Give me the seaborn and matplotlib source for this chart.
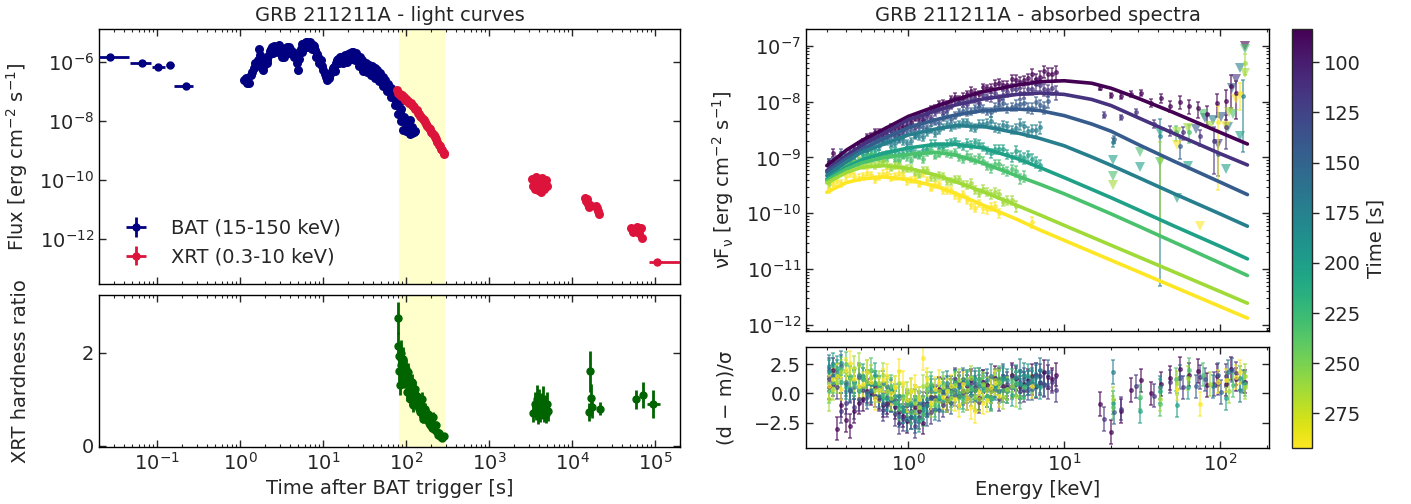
import numpy as np
import pandas as pd
import matplotlib
matplotlib.use("Agg")
import matplotlib.pyplot as plt
import matplotlib.ticker as mticker
from matplotlib.colors import Normalize
from matplotlib.cm import ScalarMappable
import seaborn as sns

nan = np.nan

# ---------------- light curves ----------------
band = [83.4, 292.3]

bat_early_t = [0.027, 0.0655, 0.104, 0.142, 0.221]
bat_early_tlo = [0.0194, 0.047, 0.086, 0.127, 0.160]
bat_early_thi = [0.046, 0.084, 0.124, 0.158, 0.270]
bat_early_flux = [1.48e-6, 8.9e-7, 6.8e-7, 7.9e-7, 1.55e-7]

bat_t = [1.12, 1.17, 1.22, 1.28, 1.34, 1.40, 1.46, 1.52, 1.58, 1.64, 1.70, 1.76, 1.83, 1.90, 1.97,
         2.04, 2.12, 2.20, 2.28, 2.37, 2.46, 2.55, 2.65, 2.75, 2.85, 2.96, 3.07, 3.19, 3.31, 3.44,
         3.57, 3.70, 3.84, 3.99, 4.14, 4.30, 4.46, 4.63, 4.81, 4.99, 5.18, 5.38, 5.58, 5.79, 6.01,
         6.24, 6.48, 6.73, 6.98, 7.25, 7.52, 7.81, 8.11, 8.41, 8.73, 9.07, 9.41, 9.77, 10.1, 10.5,
         10.9, 11.3, 11.8, 12.2, 12.7, 13.2, 13.7, 14.2, 14.7, 15.3, 15.9, 16.5, 17.1, 17.7, 18.4,
         19.1, 19.8, 20.6, 21.4, 22.2, 23.0, 23.9, 24.8, 25.7, 26.7, 27.7, 28.8, 29.9, 31.0, 32.2,
         33.4, 34.7, 36.0, 37.4, 38.8, 40.3, 41.8, 43.4, 45.0, 46.7, 48.5, 50.4, 52.3, 54.3, 56.3,
         58.5, 60.7, 63.0, 65.4, 67.9, 70.5, 73.2, 75.9, 78.8, 81.8, 84.9, 88.2, 91.5, 95.0, 98.6,
         102.4, 106.3, 110.3, 114.5, 118.9, 123.4, 128.1,
         2.1, 2.5, 2.9, 3.4, 3.9, 4.5, 5.6, 6.4, 7.3, 8.3, 14.0, 15.6, 17.4, 19.4, 21.8, 24.3, 27.2,
         30.4, 33.9, 37.9, 42.3, 47.2, 52.7, 58.9, 65.8, 73.5, 80.0, 86.5, 92.8, 99.5, 105, 112, 119]
bat_logflux = [-6.62, -6.55, -6.70, -6.73, -6.45, -6.34, -6.20, -6.05, -6.10, -5.95, -5.55, -5.75, -6.20, -6.28, -6.10,
               -5.95, -5.94, -5.80, -5.62, -5.55, -5.49, -5.45, -5.60, -5.52, -5.48, -5.43, -5.60, -5.83, -5.70, -5.58,
               -5.52, -5.50, -5.49, -5.58, -5.62, -5.66, -5.72, -5.75, -6.05, -6.28, -5.90, -5.55, -5.40, -5.38, -5.35,
               -5.33, -5.32, -5.36, -5.34, -5.40, -5.43, -5.45, -5.60, -5.72, -5.85, -6.05, -5.95, -6.15, -6.28, -6.40,
               -6.50, -6.62, -6.55, -6.40, -6.30, -6.22, -6.17, -6.05, -5.95, -5.90, -5.85, -5.83, -5.90, -5.80, -5.76,
               -5.85, -5.72, -5.80, -5.70, -5.68, -5.66, -5.75, -5.70, -5.88, -5.94, -5.85, -6.05, -5.95, -6.12, -6.17,
               -6.05, -6.20, -6.10, -6.25, -6.15, -6.30, -6.22, -6.35, -6.28, -6.45, -6.38, -6.60, -6.50, -6.70, -6.62,
               -6.82, -6.75, -6.95, -6.88, -7.10, -7.05, -7.25, -7.18, -7.45, -7.40, -7.70, -7.60, -7.95, -7.85, -8.20,
               -8.05, -8.15, -7.98, -8.30, -8.20, -8.37, -8.35,
               -6.05, -5.70, -5.65, -5.85, -5.70, -5.85, -5.65, -5.50, -5.55, -5.85, -6.30, -6.05, -6.05, -6.00,
               -5.90, -5.95, -6.15, -6.30, -6.35, -6.45, -6.55, -6.65, -6.80, -7.00, -7.20, -7.45, -7.75, -8.00,
               -8.30, -8.35, -8.25, -8.45, -8.40]

xrt_t = [77, 79.5, 82, 84.5, 87, 89.5, 92, 95, 98, 101, 104, 107, 110, 114, 118, 122, 126, 130, 134, 138,
         143, 148, 153, 158, 163, 169, 175, 181, 187, 194, 201, 208, 215, 223, 231, 239, 247, 256, 265, 274,
         283, 290,
         3250, 3350, 3450, 3550, 3650, 3750, 3850, 3950, 4050, 4150, 4250, 4350, 4450, 4550, 4650, 4750,
         4900, 5050, 14300, 14800, 15200, 15600, 16000, 16300, 19300, 19900, 20500, 21200,
         51000, 55000, 58000, 61000, 64000, 67000, 70000]
xrt_logflux = [-6.96, -7.05, -7.10, -7.08, -7.15, -7.13, -7.20, -7.18, -7.28, -7.25, -7.33, -7.31, -7.40, -7.38,
               -7.45, -7.50, -7.52, -7.60, -7.64, -7.72, -7.75, -7.83, -7.86, -7.93, -7.97, -8.05, -8.10, -8.18,
               -8.23, -8.28, -8.36, -8.42, -8.48, -8.56, -8.62, -8.70, -8.80, -8.86, -8.94, -9.00, -9.08, -9.13,
               -9.95, -10.20, -10.05, -10.30, -9.90, -10.15, -10.35, -10.00, -10.25, -10.10, -10.40, -9.92,
               -10.20, -10.05, -10.30, -10.12, -10.00, -10.22, -10.60, -10.70, -10.65, -10.80, -10.90, -10.85,
               -10.88, -10.95, -11.05, -11.15, -11.62, -11.75, -11.68, -11.58, -11.80, -11.62, -11.98]
xrt_last_t = 1.06e5
xrt_last_tlo = 8.5e4
xrt_last_thi = 2.5e5
xrt_last_flux = 1.7e-13

hr_t = [79.5, 80.5, 81.5, 82.5, 84, 86, 88, 89, 91, 93, 95, 97.7, 99, 101.6, 104, 106.5, 109, 111.7, 114, 117,
        120, 122.6, 125.5, 128.6, 131.5, 134.8, 138, 141, 144.5, 148, 151.5, 155, 158.5, 162, 165.5, 169, 173,
        178, 182, 186, 190, 195, 200, 204, 212, 223, 230, 238, 245, 252, 260, 267, 275, 284,
        3400, 3550, 3650, 3750, 3850, 3950, 4050, 4150, 4250, 4350, 4450, 4550, 4700, 4850, 5000, 5150,
        16100, 16500, 16800, 17200, 22000, 59800, 72300]
hr_val = [2.75, 2.15, 1.62, 1.94, 1.30, 1.75, 2.00, 1.72, 1.55, 1.87, 1.45, 1.44, 1.65, 1.15, 1.50, 1.58, 1.20,
          1.01, 1.30, 1.37, 1.10, 0.87, 1.15, 1.23, 0.95, 1.08, 0.85, 1.00, 0.78, 0.72, 0.90, 1.01, 0.70, 0.58,
          0.75, 0.80, 0.60, 0.55, 0.68, 0.65, 0.48, 0.44, 0.55, 0.37, 0.62, 0.33, 0.45, 0.30, 0.22, 0.28, 0.20,
          0.19, 0.17, 0.20,
          0.70, 0.90, 0.75, 1.00, 0.65, 0.85, 0.95, 0.72, 0.88, 0.80, 0.98, 0.70, 0.85, 0.68, 0.90, 0.75,
          0.73, 1.60, 1.02, 0.84, 0.80, 1.00, 1.10]
hr_err = [0.35, 0.30, 0.25, 0.30, 0.20, 0.25, 0.28, 0.25, 0.22, 0.25, 0.20, 0.20, 0.22, 0.18, 0.20, 0.20, 0.18,
          0.15, 0.18, 0.18, 0.15, 0.14, 0.16, 0.16, 0.14, 0.15, 0.13, 0.14, 0.12, 0.12, 0.13, 0.14, 0.11, 0.10,
          0.12, 0.12, 0.10, 0.10, 0.11, 0.10, 0.09, 0.08, 0.09, 0.08, 0.10, 0.07, 0.08, 0.06, 0.05, 0.06, 0.05,
          0.05, 0.04, 0.05,
          0.20, 0.25, 0.20, 0.30, 0.18, 0.22, 0.28, 0.20, 0.25, 0.22, 0.30, 0.20, 0.24, 0.20, 0.25, 0.22,
          0.20, 0.45, 0.30, 0.25, 0.15, 0.20, 0.28]
hr_last_t = 95000
hr_last_tlo = 80000
hr_last_thi = 116000
hr_last_val = 0.90
hr_last_err = 0.30

# ---------------- spectra ----------------
times = [83.4, 113.2, 143.1, 172.9, 202.8, 232.6, 262.5, 292.3]

model_E = [0.3, 0.4, 0.5, 0.7, 1.0, 1.5, 2, 3, 5, 7, 10, 15, 20, 30, 50, 100, 150]
model_logF = [
    [-9.146, -8.87, -8.70, -8.49, -8.264, -8.085, -7.966, -7.822, -7.703, -7.643, -7.626, -7.67, -7.76, -7.942, -8.192, -8.55, -8.759],
    [-9.236, -8.97, -8.788, -8.562, -8.323, -8.162, -8.061, -7.954, -7.870, -7.846, -7.87, -7.96, -8.07, -8.29, -8.565, -8.93, -9.134],
    [-9.265, -9.02, -8.86, -8.657, -8.466, -8.323, -8.240, -8.162, -8.132, -8.16, -8.25, -8.40, -8.53, -8.77, -9.06, -9.44, -9.665],
    [-9.325, -9.08, -8.908, -8.759, -8.598, -8.49, -8.431, -8.442, -8.56, -8.66, -8.79, -8.99, -9.14, -9.36, -9.64, -10.01, -10.231],
    [-9.385, -9.17, -9.045, -8.92, -8.83, -8.764, -8.764, -8.83, -9.02, -9.18, -9.36, -9.57, -9.72, -9.94, -10.22, -10.59, -10.816],
    [-9.414, -9.21, -9.098, -8.997, -8.943, -8.908, -8.955, -9.10, -9.33, -9.48, -9.65, -9.86, -10.01, -10.23, -10.51, -10.89, -11.114],
    [-9.456, -9.27, -9.176, -9.146, -9.194, -9.313, -9.432, -9.611, -9.86, -10.03, -10.215, -10.424, -10.572, -10.78, -11.043, -11.40, -11.61],
    [-9.623, -9.45, -9.385, -9.349, -9.397, -9.516, -9.64, -9.85, -10.11, -10.30, -10.483, -10.692, -10.84, -11.048, -11.311, -11.668, -11.877],
]

# XRT channels, set A
xrt_E_a = [0.31, 0.35, 0.40, 0.45, 0.51, 0.58, 0.65, 0.73, 0.82, 0.92, 1.04, 1.17, 1.32, 1.48, 1.67, 1.88,
           2.12, 2.39, 2.69, 3.03, 3.41, 3.84, 4.33, 4.88, 5.5, 6.2, 6.98, 7.86, 8.85]
xrt_frac_a = [0.16, 0.16, 0.14, 0.14, 0.14, 0.14, 0.14, 0.14, 0.14, 0.14, 0.14, 0.14, 0.14, 0.14, 0.14, 0.14,
              0.14, 0.16, 0.16, 0.16, 0.18, 0.18, 0.18, 0.21, 0.21, 0.23, 0.23, 0.25, 0.28]
xrt_logF_a = [
    [-9.09, -9.18, -9.01, -8.87, -8.72, -8.61, -8.55, -8.51, -8.46, -8.43, -8.37, -8.28, -8.20, -8.12, -8.03, -7.96,
     -7.96, -7.87, -7.84, -7.74, -7.76, -7.67, -7.70, -7.61, -7.62, -7.51, -7.55, -7.50, -7.47],
    [-9.12, -9.06, -9.02, -8.95, -8.76, -8.64, -8.64, -8.59, -8.56, -8.51, -8.40, -8.38, -8.26, -8.19, -8.18, -8.07,
     -8.00, -8.04, -7.95, -7.88, -7.92, -7.95, -7.83, -7.77, -7.84, -7.77, -7.70, -7.80, -7.83],
    [-9.10, -9.03, -8.97, -8.88, -8.82, -8.76, -8.67, -8.65, -8.61, -8.60, -8.51, -8.46, -8.48, -8.36, -8.29, -8.31,
     -8.19, -8.19, -8.12, -8.13, -8.18, -8.07, -8.12, -8.06, -8.03, -8.11, -8.06, -7.99, nan],
    [-9.14, -9.07, -9.02, -8.96, -8.83, -8.82, -8.80, -8.71, -8.74, -8.71, -8.71, -8.62, -8.55, -8.57, -8.45, -8.46,
     -8.40, -8.37, -8.47, -8.40, -8.35, -8.48, -8.44, -8.48, -8.44, -8.50, -8.46, nan, nan],
    [-9.24, -9.12, -9.14, -9.04, -8.95, -8.94, -8.93, -8.94, -8.89, -8.94, -8.87, -8.94, -8.84, -8.75, -8.80, -8.73,
     -8.77, -8.74, -8.73, -8.81, -8.92, -8.85, -8.94, -8.88, -9.01, -9.02, -9.13, nan, nan],
    [-9.38, -9.19, -9.06, -9.10, -9.02, -8.93, -8.99, -8.99, -9.02, -8.97, -9.04, -8.96, -8.90, -8.97, -8.88, -8.94,
     -8.99, -8.95, -9.04, -9.06, -9.19, -9.11, -9.25, -9.24, -9.33, nan, nan, nan, nan],
    [-9.47, -9.29, -9.16, -9.09, -9.14, -9.08, -9.10, -9.14, -9.14, -9.21, -9.19, -9.31, -9.23, -9.35, -9.33, -9.43,
     -9.39, -9.49, -9.58, -9.56, -9.66, -9.65, -9.76, -9.87, nan, nan, nan, nan, nan],
    [-9.56, -9.43, -9.33, -9.34, -9.34, -9.31, -9.34, -9.27, -9.34, -9.33, -9.40, -9.47, -9.41, -9.49, -9.58, -9.58,
     -9.73, -9.76, -9.90, -9.91, -9.88, -9.99, nan, nan, nan, -10.15, nan, nan, nan],
]
xrt_res_a = [
    [0.5, -3.0, -2.3, -1.5, -0.5, 0.0, -0.3, -0.8, -1.2, -1.9, -2.0, -1.5, -1.0, -0.5, 0.2, 0.5,
     -0.2, 0.6, 0.3, 1.0, 0.4, 1.2, 0.5, 1.3, 0.8, 1.5, 0.9, 1.4, 1.6],
    [1.2, 0.5, -0.8, -1.2, 0.3, 0.8, -0.5, -1.0, -1.8, -2.2, -1.5, -2.0, -0.8, -0.3, -1.0, 0.2,
     0.8, -0.4, 0.5, 1.0, 0.2, -0.5, 0.8, 1.2, 0.3, 0.9, 1.5, 0.5, 0.3],
    [2.0, 1.5, 0.8, 1.0, 0.5, 0.2, 0.5, -0.3, -0.6, -1.5, -1.0, -0.8, -1.8, -0.5, 0.0, -0.8,
     0.6, 0.2, 0.9, 0.5, -0.3, 1.0, 0.2, 0.8, 1.2, 0.4, 1.0, 1.8, nan],
    [2.3, 1.8, 1.0, 0.5, 1.2, 0.3, -0.2, 0.5, -0.8, -1.2, -2.0, -1.0, -0.5, -1.3, 0.3, -0.2,
     0.5, 1.0, -0.5, 0.7, 1.5, 0.2, 1.1, 0.8, 1.6, 1.2, 2.0, nan, nan],
    [1.8, 2.2, 0.5, 1.0, 1.5, 0.8, 0.3, -0.5, -0.2, -1.5, -0.8, -2.3, -1.0, 0.2, -0.6, 0.5,
     0.0, 0.8, 1.2, 0.3, -0.5, 0.9, 0.4, 1.4, 0.6, 1.0, 0.5, nan, nan],
    [0.2, 1.6, 2.5, 0.8, 1.2, 2.0, 0.5, 0.0, -0.8, -0.2, -1.6, -0.5, 0.4, -1.0, 0.8, 0.1,
     -0.3, 1.0, 0.3, 0.6, -0.4, 1.3, 0.2, 0.9, 0.5, nan, nan, nan, nan],
    [-0.5, 1.0, 1.8, 2.2, 0.6, 1.4, 0.9, 0.2, 0.5, -0.5, 0.3, -1.2, 0.8, -0.6, 0.5, -0.4,
     1.1, 0.3, -0.3, 0.8, 0.2, 1.0, 0.4, -0.2, nan, nan, nan, nan, nan],
    [0.6, 1.5, 2.0, 1.2, 0.8, 1.0, 0.3, 1.5, 0.5, 0.9, 0.2, -0.5, 1.2, 0.4, -0.3, 0.6,
     -1.0, -0.4, -1.5, -0.8, 0.5, -0.2, nan, nan, nan, 0.6, nan, nan, nan],
]

# XRT channels, set B (interleaved)
xrt_E_b = [0.33, 0.37, 0.42, 0.48, 0.545, 0.615, 0.69, 0.775, 0.87, 0.98, 1.10, 1.245, 1.40, 1.575,
           1.775, 2.0, 2.25, 2.54, 2.86, 3.22, 3.62, 4.08, 4.6, 5.2, 5.85, 6.6, 7.4, 8.35]
xrt_frac_b = [0.16, 0.16, 0.14, 0.14, 0.14, 0.14, 0.14, 0.14, 0.14, 0.14, 0.14, 0.14, 0.14, 0.14,
              0.14, 0.14, 0.14, 0.16, 0.16, 0.16, 0.18, 0.18, 0.18, 0.21, 0.21, 0.23, 0.23, 0.25]
xrt_logF_b = [
    [-8.92, -9.00, -8.99, -8.78, -8.64, -8.54, -8.56, -8.46, -8.45, -8.43, -8.29, -8.32, -8.13, -8.04,
     -8.05, -7.91, -7.91, -7.81, -7.87, -7.76, -7.68, -7.70, -7.60, -7.65, -7.58, -7.59, -7.46, -7.50],
    [-9.09, -9.14, -8.90, -8.85, -8.67, -8.66, -8.66, -8.53, -8.57, -8.40, -8.45, -8.29, -8.29, -8.13,
     -8.13, -7.99, -8.03, -7.94, -8.02, -7.92, -7.84, -7.88, -7.77, -7.85, -7.78, -7.69, -7.78, -7.75],
    [-9.07, -8.92, -8.97, -8.81, -8.83, -8.68, -8.72, -8.60, -8.66, -8.52, -8.58, -8.46, -8.37, -8.39,
     -8.25, -8.25, -8.16, -8.17, -8.09, -8.17, -8.10, -8.02, -8.09, -8.05, -8.11, -8.00, -8.10, nan],
    [-9.14, -8.96, -9.01, -8.85, -8.87, -8.77, -8.71, -8.75, -8.67, -8.74, -8.61, -8.64, -8.50, -8.51,
     -8.40, -8.42, -8.36, -8.45, -8.40, -8.38, -8.45, -8.41, -8.50, -8.40, -8.53, -8.50, nan, nan],
    [-9.15, -9.15, -9.06, -9.06, -8.96, -8.87, -8.95, -8.88, -8.93, -8.87, -8.93, -8.87, -8.75, -8.79,
     -8.75, -8.71, -8.80, -8.77, -8.76, -8.87, -8.85, -8.85, -9.00, -8.97, -8.96, -9.08, nan, nan],
    [-9.28, -9.11, -9.09, -9.10, -8.97, -8.98, -9.02, -8.95, -9.04, -9.00, -8.95, -9.03, -8.87, -8.93,
     -8.92, -8.91, -9.03, -9.01, -9.00, -9.15, -9.11, -9.21, -9.21, -9.37, nan, nan, nan, nan],
    [-9.37, -9.19, -9.17, -9.05, -9.11, -9.14, -9.06, -9.18, -9.12, -9.20, -9.27, -9.22, -9.35, -9.32,
     -9.42, -9.39, -9.47, -9.45, -9.63, -9.62, -9.61, -9.79, -9.77, nan, nan, nan, nan, nan],
    [-9.48, -9.46, -9.28, -9.36, -9.27, -9.39, -9.29, -9.36, -9.27, -9.43, -9.39, -9.28, -9.54, -9.48,
     -9.58, -9.67, -9.65, -9.85, -9.82, -9.93, -9.87, nan, nan, nan, nan, nan, nan, nan],
]
xrt_res_b = [
    [2.0, -1.0, -2.8, -0.8, 0.2, 0.5, -1.0, -0.5, -1.6, -2.4, -1.2, -2.5, -0.3, 0.4,
     -0.6, 1.0, 0.2, 1.1, -0.4, 0.7, 1.3, 0.6, 1.6, 0.5, 1.1, 0.6, 1.8, 1.2],
    [0.8, -1.5, 0.3, -0.5, 1.0, -0.2, -1.4, -0.6, -2.5, -1.0, -2.8, -0.9, -1.6, 0.3,
     -0.4, 1.2, 0.0, 0.9, -0.7, 0.4, 1.1, 0.3, 1.4, 0.2, 0.9, 1.6, 0.7, 1.0],
    [1.6, 2.3, 0.2, 1.4, -0.3, 0.9, -0.8, 0.1, -1.9, -0.7, -2.4, -1.2, -0.4, -1.4,
     0.5, -0.1, 1.0, 0.3, 1.2, -0.2, 0.7, 1.5, 0.6, 1.0, 0.4, 1.6, 0.8, nan],
    [1.5, 2.6, 0.4, 1.6, 0.0, 0.8, 0.9, -0.6, -0.2, -2.2, -0.6, -1.7, 0.2, -0.4,
     0.9, 0.3, 1.2, -0.1, 0.6, 1.1, 0.4, 1.3, 0.5, 1.9, 0.9, 1.4, nan, nan],
    [2.4, 1.0, 1.3, 0.2, 0.9, 1.6, -0.4, 0.3, -1.1, -0.6, -2.0, -1.3, 0.5, -0.4,
     0.2, 1.0, -0.3, 0.5, 0.9, -0.2, 0.6, 1.2, -0.1, 0.8, 1.5, 0.7, nan, nan],
    [1.0, 2.1, 1.5, 0.4, 1.8, 0.9, -0.2, 0.6, -1.3, -0.9, -0.3, -1.8, 0.8, -0.2,
     0.3, 0.9, -0.6, 0.4, 1.2, -0.2, 0.9, 0.3, 1.1, -0.3, nan, nan, nan, nan],
    [0.4, 1.8, 1.2, 2.4, 1.0, 0.3, 1.6, -0.4, 0.9, 0.0, -0.8, 0.6, -1.0, 0.2,
     -0.6, 0.7, 0.2, 1.3, -0.5, 0.4, 1.1, -0.3, 0.6, nan, nan, nan, nan, nan],
    [1.2, 0.4, 2.6, 0.6, 1.8, -0.4, 1.1, 0.0, 1.9, -0.6, 0.6, 3.0, -0.8, 1.0,
     0.2, -0.5, 0.8, -1.2, 0.1, -0.6, 0.9, nan, nan, nan, nan, nan, nan, nan],
]

# BAT spectral detections (flat lists)
bat_slice = [0, 0, 0, 0, 0, 0, 0, 0, 0, 0, 0, 0, 0, 0, 0, 0,
             1, 1, 1, 1, 1, 1, 1, 1, 1,
             2, 2, 2, 3, 3, 3, 5, 5, 6, 6, 7, 7]
bat_E = [17, 20, 23, 27, 31, 36, 42, 48, 55, 63, 72, 83, 95, 110, 118, 127,
         18, 23, 29, 37.6, 47.5, 58, 74, 92, 110,
         21, 55, 97, 20.6, 41.5, 140, 52, 63, 41.5, 144, 97, 133.6]
bat_logF = [-7.75, -7.89, -7.90, -7.86, -7.84, -8.02, -7.94, -8.08, -8.00, -8.08, -8.12, -8.22, -8.02, -7.98, -7.72, -7.85,
            -8.24, -8.28, -8.19, -8.40, -8.52, -8.55, -8.62, -8.70, -8.45,
            -8.67, -8.80, -8.93, -8.72, -8.61, -7.90, -8.55, -8.55, -9.02, -7.30, -8.36, -7.85]
bat_frac = [0.09, 0.09, 0.12, 0.12, 0.14, 0.16, 0.19, 0.21, 0.26, 0.28, 0.32, 0.37, 0.45, 0.55, 0.60, 0.65,
            0.12, 0.12, 0.14, 0.16, 0.21, 0.26, 0.32, 0.75, 0.60,
            0.14, 0.40, 0.60, 0.18, 0.998, 0.90, 0.30, 0.35, 0.96, 0.40, 0.94, 0.50]
bat_res = [-0.9, -3.3, -1.5, 0.3, 1.1, 0.0, 0.8, 1.3, 2.1, 1.6, 1.9, 0.7, 1.5, 0.8, 2.1, 1.2,
           -2.2, -1.3, 0.6, -0.2, 1.0, 0.5, 1.4, 0.8, 1.5,
           -1.6, 1.4, 1.6, 1.8, 0.5, 1.0, 1.2, 2.0, -0.5, 1.5, 1.0, 1.8]

# BAT spectral upper limits (flat lists)
ul_slice = [4, 5, 6, 5, 4, 4, 5, 6, 7, 4, 6, 4, 2, 7, 5, 6, 1, 7, 4, 5, 1, 3, 4, 0, 5, 6, 7, 6, 2, 3, 2, 3, 2]
ul_E = [20.6, 20.6, 20.6, 30.5, 30.5, 41.5, 41.5, 52.6, 52.6, 52.6, 62.2, 62.2, 70.5, 74.1, 77.8, 85.9,
        97.1, 108.7, 109.7, 121, 127, 133.6, 133.6, 143.8, 143.8, 143.8, 127, 115, 80, 90, 102, 113, 120]
ul_logF = [-9.04, -9.34, -9.50, -8.90, -9.17, -8.55, -9.09, -8.54, -8.78, -9.73, -8.48, -9.16, -8.49, -10.22,
           -8.22, -8.43, -8.76, -8.43, -9.21, -8.22, -7.60, -7.39, -8.61, -7.00, -7.06, -7.48, -7.95, -8.19,
           -8.30, -8.32, -8.28, -8.45, -7.75]
ul_res = [-0.8, -1.2, -0.5, -0.3, -1.5, 0.2, -0.9, 0.9, 0.4, -1.0, 1.3, 0.5, 0.6, -0.9, 1.6, 0.8, 0.9, 1.1,
          -0.4, 0.7, 1.7, 0.3, 1.3, 1.0, 0.8, 0.5, 1.4, 0.2, 1.2, 0.6, 0.1, 1.8, 2.0]

# ---------------- style ----------------
sns.set_style("ticks")
plt.rcParams["font.family"] = ["DejaVu Sans"]
plt.rcParams["font.size"] = 14
plt.rcParams["axes.linewidth"] = 1.0
plt.rcParams["mathtext.fontset"] = "dejavusans"

W, H = 1411, 504
fig = plt.figure(figsize=(W / 100, H / 100), dpi=100)


def rect(x0, y0, x1, y1):
    return [x0 / W, 1 - y1 / H, (x1 - x0) / W, (y1 - y0) / H]


ax_lc = fig.add_axes(rect(99, 29, 680, 284))
ax_hr = fig.add_axes(rect(99, 295, 680, 447), sharex=ax_lc)
ax_sp = fig.add_axes(rect(806, 29, 1269, 331))
ax_rs = fig.add_axes(rect(806, 347, 1269, 448), sharex=ax_sp)
cax = fig.add_axes(rect(1292, 29, 1312, 448))

BATC = "navy"
XRTC = "crimson"
HRC = "darkgreen"
EB = dict(fmt="o", ms=2.6, alpha=0.6, elinewidth=1.3, capsize=1.6, capthick=1.2, zorder=2)

# ---------------- light-curve panel ----------------
for ax in (ax_lc, ax_hr):
    ax.axvspan(band[0], band[1], color="yellow", alpha=0.2, lw=0, zorder=0)

bt = np.array(bat_early_t)
ax_lc.errorbar(bt, bat_early_flux,
               xerr=[bt - np.array(bat_early_tlo), np.array(bat_early_thi) - bt],
               yerr=np.array(bat_early_flux) * 0.05,
               fmt="o", color=BATC, ms=5, elinewidth=2, capsize=0, label="BAT (15-150 keV)", zorder=3)
df_bat = pd.DataFrame({"t": bat_t, "flux": 10 ** np.array(bat_logflux)})
sns.scatterplot(data=df_bat, x="t", y="flux", color=BATC, s=42, linewidth=0, ax=ax_lc, zorder=3)
df_xrt = pd.DataFrame({"t": xrt_t, "flux": 10 ** np.array(xrt_logflux)})
sns.scatterplot(data=df_xrt, x="t", y="flux", color=XRTC, s=42, linewidth=0, ax=ax_lc, zorder=4)
ax_lc.errorbar([xrt_last_t], [xrt_last_flux],
               xerr=[[xrt_last_t - xrt_last_tlo], [xrt_last_thi - xrt_last_t]],
               yerr=[[xrt_last_flux * 0.2], [xrt_last_flux * 0.2]],
               fmt="o", color=XRTC, ms=5, elinewidth=2, capsize=0, label="XRT (0.3-10 keV)", zorder=4)

ax_lc.set_xscale("log")
ax_lc.set_yscale("log")
ax_lc.set_xlim(0.02, 2e5)
ax_lc.set_ylim(3e-14, 1.3e-5)
ax_lc.yaxis.set_major_locator(mticker.FixedLocator([1e-12, 1e-10, 1e-8, 1e-6]))
ax_lc.yaxis.set_major_formatter(mticker.LogFormatterSciNotation())
ax_lc.yaxis.set_minor_locator(mticker.NullLocator())
ax_lc.tick_params(labelbottom=False)
ax_lc.set_xlabel("")
ax_lc.set_ylabel(r"Flux [erg cm$^{-2}$ s$^{-1}$]")
ax_lc.yaxis.set_label_coords(-0.118, 0.5)
ax_lc.set_title("GRB 211211A - light curves", fontsize=14)
ax_lc.legend(loc="lower left", frameon=False, fontsize=14)

ax_hr.errorbar(hr_t, hr_val, yerr=hr_err, fmt="o", color=HRC, ms=5, elinewidth=2, capsize=0, zorder=3)
ax_hr.errorbar([hr_last_t], [hr_last_val],
               xerr=[[hr_last_t - hr_last_tlo], [hr_last_thi - hr_last_t]], yerr=[hr_last_err],
               fmt="o", color=HRC, ms=5, elinewidth=2, capsize=0, zorder=3)
ax_hr.set_ylim(-0.03, 3.25)
ax_hr.yaxis.set_major_locator(mticker.MultipleLocator(2))
ax_hr.set_xlabel("Time after BAT trigger [s]")
ax_hr.set_ylabel("XRT hardness ratio")
ax_hr.yaxis.set_label_coords(-0.118, 0.5)

# ---------------- spectra panel ----------------
cmap = plt.get_cmap("viridis")
norm = Normalize(vmin=min(times), vmax=max(times))

rows = []
for ti, logs in zip(times, model_logF):
    for e, lf in zip(model_E, logs):
        rows.append({"E": e, "F": 10 ** lf, "t": ti})
df_model = pd.DataFrame(rows)

for i, ti in enumerate(times):
    c = cmap(norm(ti))
    for E_set, frac_set, logF_set, res_set in ((xrt_E_a, xrt_frac_a, xrt_logF_a, xrt_res_a),
                                               (xrt_E_b, xrt_frac_b, xrt_logF_b, xrt_res_b)):
        F = 10 ** np.array(logF_set[i])
        ax_sp.errorbar(E_set, F, yerr=F * np.array(frac_set), color=c, **EB)
        ax_rs.errorbar(E_set, res_set[i], yerr=1.0, color=c, **EB)
    sel = [k for k, s in enumerate(bat_slice) if s == i]
    if sel:
        Eb = np.array([bat_E[k] for k in sel])
        Fb = 10 ** np.array([bat_logF[k] for k in sel])
        fb = np.array([bat_frac[k] for k in sel])
        rb = [bat_res[k] for k in sel]
        ax_sp.errorbar(Eb, Fb, yerr=Fb * fb, color=c, **EB)
        ax_rs.errorbar(Eb, rb, yerr=1.0, color=c, **EB)
    selu = [k for k, s in enumerate(ul_slice) if s == i]
    if selu:
        Eu = [ul_E[k] for k in selu]
        Fu = 10 ** np.array([ul_logF[k] for k in selu])
        ru = [ul_res[k] for k in selu]
        ax_sp.plot(Eu, Fu, "v", ms=6.5, color=c, alpha=0.6, mew=0, zorder=2)
        ax_rs.errorbar(Eu, ru, yerr=1.0, color=c, **EB)

sns.lineplot(data=df_model, x="E", y="F", hue="t", units="t", estimator=None, sort=False,
             palette="viridis", hue_norm=norm, legend=False, linewidth=2.6, ax=ax_sp, zorder=3)

ax_sp.set_xscale("log")
ax_sp.set_yscale("log")
ax_sp.set_xlim(0.2206, 206.3)
ax_sp.set_ylim(7.8e-13, 2e-7)
ax_sp.tick_params(labelbottom=False)
ax_sp.set_xlabel("")
ax_sp.set_ylabel(r"νF$_\mathregular{ν}$ [erg cm$^{-2}$ s$^{-1}$]")
ax_sp.yaxis.set_label_coords(-0.152, 0.5)
ax_sp.set_title("GRB 211211A - absorbed spectra", fontsize=14)

ax_rs.set_ylim(-4.66, 3.95)
ax_rs.yaxis.set_major_locator(mticker.MultipleLocator(2.5))
ax_rs.set_xlabel("Energy [keV]")
ax_rs.set_ylabel("(d − m)/σ")
ax_rs.yaxis.set_label_coords(-0.152, 0.5)

for ax in (ax_lc, ax_hr, ax_sp, ax_rs):
    ax.tick_params(which="both", direction="in", top=True, right=True)
    ax.tick_params(which="major", length=5, width=1, labelsize=14)
    ax.tick_params(which="minor", length=2.5, width=0.8)
    for sp in ax.spines.values():
        sp.set_color("black")
        sp.set_linewidth(1.0)

sm = ScalarMappable(norm=norm, cmap=cmap)
cb = fig.colorbar(sm, cax=cax)
cax.invert_yaxis()
cb.set_ticks([100, 125, 150, 175, 200, 225, 250, 275])
cb.set_label("Time [s]", fontsize=14)
cax.tick_params(direction="out", length=5, width=1, labelsize=14)

fig.savefig("out.png", dpi=100)
